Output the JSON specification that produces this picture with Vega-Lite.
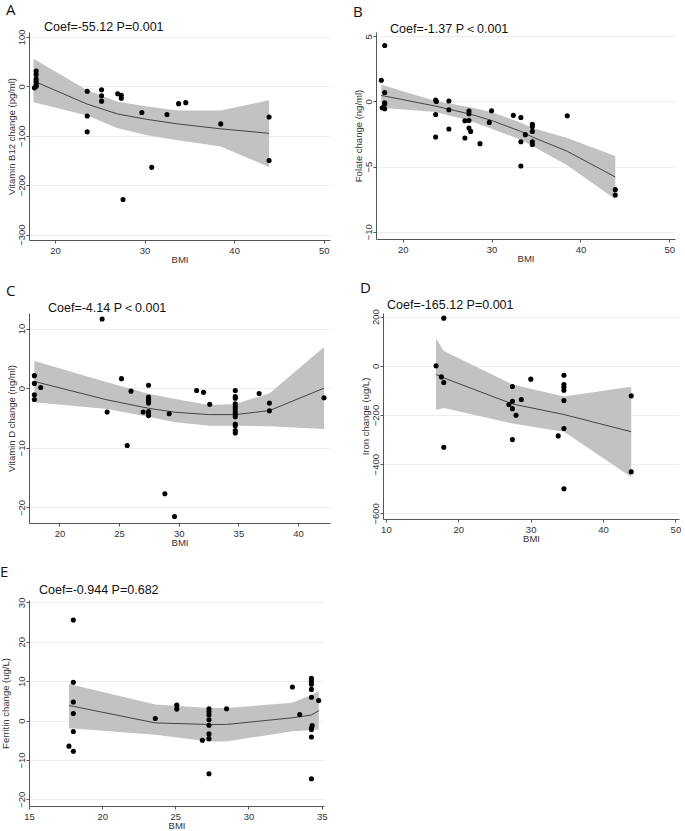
{
  "$schema": "https://vega.github.io/schema/vega-lite/v6.json",
  "background": "white",
  "padding": {"left": 0, "top": 2, "right": 0, "bottom": 0},
  "config": {
    "view": {"stroke": null},
    "font": "Liberation Sans",
    "axis": {
      "domainColor": "#555555",
      "tickColor": "#555555",
      "labelColor": "#333333",
      "titleColor": "#333333",
      "labelFont": "Liberation Sans",
      "titleFont": "Liberation Sans",
      "labelFontSize": 9.5,
      "titleFontSize": 9.5,
      "titleFontWeight": "normal",
      "tickSize": 3,
      "gridColor": "#eeeeee",
      "gridWidth": 1,
      "labelFlush": false,
      "labelOverlap": false
    },
    "axisX": {"grid": false, "labelPadding": 2, "titlePadding": 0},
    "axisY": {"grid": true, "labelAngle": 270, "labelAlign": "center", "labelBaseline": "bottom", "labelPadding": 0, "titlePadding": 0},
    "title": {"color": "#111111", "fontWeight": "normal"}
  },
  "datasets": {
    "A_pts": [
      {"bmi": 17.7, "y": -3}, {"bmi": 17.9, "y": 31}, {"bmi": 17.9, "y": 24}, {"bmi": 17.9, "y": 15},
      {"bmi": 17.9, "y": 9}, {"bmi": 17.9, "y": 4}, {"bmi": 17.9, "y": 0},
      {"bmi": 23.6, "y": -10}, {"bmi": 23.6, "y": -60}, {"bmi": 23.6, "y": -92},
      {"bmi": 25.2, "y": -7}, {"bmi": 25.2, "y": -19}, {"bmi": 25.2, "y": -30},
      {"bmi": 27.0, "y": -15}, {"bmi": 27.4, "y": -18}, {"bmi": 27.4, "y": -24}, {"bmi": 27.6, "y": -229},
      {"bmi": 29.7, "y": -53}, {"bmi": 30.8, "y": -164}, {"bmi": 32.5, "y": -57},
      {"bmi": 33.8, "y": -35}, {"bmi": 34.6, "y": -33}, {"bmi": 38.5, "y": -76},
      {"bmi": 43.9, "y": -62}, {"bmi": 43.9, "y": -150}
    ],
    "A_fit": [
      {"bmi": 17.6, "y": 11, "lo": -32, "hi": 56},
      {"bmi": 23.6, "y": -36, "lo": -59, "hi": -8},
      {"bmi": 27.0, "y": -56, "lo": -85, "hi": -31},
      {"bmi": 30.3, "y": -67, "lo": -99, "hi": -41},
      {"bmi": 33.7, "y": -76, "lo": -109, "hi": -49},
      {"bmi": 38.5, "y": -86, "lo": -122, "hi": -49},
      {"bmi": 43.9, "y": -95, "lo": -163, "hi": -28}
    ],
    "B_pts": [
      {"bmi": 17.6, "y": 1.63}, {"bmi": 17.98, "y": 4.29}, {"bmi": 17.98, "y": 0.69}, {"bmi": 17.98, "y": -0.1},
      {"bmi": 17.98, "y": -0.2}, {"bmi": 17.7, "y": -0.49}, {"bmi": 17.98, "y": -0.56},
      {"bmi": 23.71, "y": 0.1}, {"bmi": 23.8, "y": 0.0}, {"bmi": 23.71, "y": -1.0}, {"bmi": 23.71, "y": -2.73},
      {"bmi": 25.2, "y": 0.03}, {"bmi": 25.2, "y": -0.64}, {"bmi": 25.2, "y": -2.12},
      {"bmi": 27.0, "y": -1.48}, {"bmi": 27.0, "y": -2.81},
      {"bmi": 27.46, "y": -0.74}, {"bmi": 27.46, "y": -0.95}, {"bmi": 27.46, "y": -1.46}, {"bmi": 27.46, "y": -2.04},
      {"bmi": 27.65, "y": -2.3}, {"bmi": 28.7, "y": -3.24}, {"bmi": 29.75, "y": -1.61}, {"bmi": 30.0, "y": -0.72},
      {"bmi": 32.45, "y": -1.07}, {"bmi": 33.3, "y": -1.23}, {"bmi": 33.3, "y": -3.09}, {"bmi": 33.3, "y": -4.96},
      {"bmi": 33.8, "y": -2.55}, {"bmi": 34.59, "y": -1.76}, {"bmi": 34.59, "y": -1.92}, {"bmi": 34.59, "y": -2.3},
      {"bmi": 34.59, "y": -3.09}, {"bmi": 34.59, "y": -3.3}, {"bmi": 38.52, "y": -1.1},
      {"bmi": 43.92, "y": -6.77}, {"bmi": 43.92, "y": -7.18}
    ],
    "B_fit": [
      {"bmi": 17.6, "y": 0.46, "lo": -0.49, "hi": 1.28},
      {"bmi": 23.71, "y": -0.36, "lo": -0.82, "hi": 0.03},
      {"bmi": 27.46, "y": -0.95, "lo": -1.46, "hi": -0.43},
      {"bmi": 30.0, "y": -1.46, "lo": -2.09, "hi": -0.82},
      {"bmi": 33.3, "y": -2.3, "lo": -2.94, "hi": -1.63},
      {"bmi": 34.59, "y": -2.73, "lo": -3.42, "hi": -2.04},
      {"bmi": 38.52, "y": -3.83, "lo": -4.9, "hi": -2.81},
      {"bmi": 43.92, "y": -5.8, "lo": -7.5, "hi": -4.19}
    ],
    "C_pts": [
      {"bmi": 17.9, "y": 2.1}, {"bmi": 17.9, "y": 0.8}, {"bmi": 17.9, "y": -1.1}, {"bmi": 17.9, "y": -1.9},
      {"bmi": 18.43, "y": 0.1}, {"bmi": 23.58, "y": 11.6}, {"bmi": 24.0, "y": -4.0}, {"bmi": 25.2, "y": 1.6},
      {"bmi": 25.68, "y": -9.6}, {"bmi": 26.0, "y": -0.5}, {"bmi": 27.02, "y": -4.0},
      {"bmi": 27.47, "y": 0.5}, {"bmi": 27.47, "y": -1.5}, {"bmi": 27.47, "y": -1.85}, {"bmi": 27.47, "y": -2.2},
      {"bmi": 27.47, "y": -2.5}, {"bmi": 27.47, "y": -3.9}, {"bmi": 27.47, "y": -4.3}, {"bmi": 27.47, "y": -4.6},
      {"bmi": 28.84, "y": -17.7}, {"bmi": 29.2, "y": -4.3}, {"bmi": 29.65, "y": -21.5},
      {"bmi": 31.5, "y": -0.4}, {"bmi": 32.08, "y": -0.7}, {"bmi": 32.6, "y": -2.7},
      {"bmi": 34.74, "y": -0.4}, {"bmi": 34.74, "y": -1.4}, {"bmi": 34.74, "y": -1.7}, {"bmi": 34.74, "y": -2.6},
      {"bmi": 34.74, "y": -3.1}, {"bmi": 34.74, "y": -3.5}, {"bmi": 34.74, "y": -4.0}, {"bmi": 34.74, "y": -4.4},
      {"bmi": 34.74, "y": -4.8}, {"bmi": 34.74, "y": -6.0}, {"bmi": 34.74, "y": -6.3}, {"bmi": 34.74, "y": -7.1},
      {"bmi": 34.74, "y": -7.5}, {"bmi": 36.74, "y": -0.9}, {"bmi": 37.6, "y": -2.5}, {"bmi": 37.6, "y": -3.8},
      {"bmi": 42.18, "y": -1.6}
    ],
    "C_fit": [
      {"bmi": 17.9, "y": 1.12, "lo": -2.36, "hi": 4.54},
      {"bmi": 24.0, "y": -1.96, "lo": -3.48, "hi": 1.0},
      {"bmi": 27.47, "y": -3.37, "lo": -4.77, "hi": -0.95},
      {"bmi": 29.7, "y": -4.04, "lo": -5.72, "hi": -1.8},
      {"bmi": 32.59, "y": -4.43, "lo": -6.28, "hi": -2.8},
      {"bmi": 34.74, "y": -4.43, "lo": -6.28, "hi": -2.64},
      {"bmi": 37.6, "y": -3.76, "lo": -6.39, "hi": -0.9},
      {"bmi": 42.18, "y": 0.0, "lo": -6.84, "hi": 6.9}
    ],
    "D_pts": [
      {"bmi": 16.93, "y": 0}, {"bmi": 17.67, "y": -45}, {"bmi": 18.0, "y": 194}, {"bmi": 18.0, "y": -68},
      {"bmi": 18.0, "y": -331}, {"bmi": 27.0, "y": -157}, {"bmi": 27.48, "y": -84}, {"bmi": 27.48, "y": -144},
      {"bmi": 27.48, "y": -174}, {"bmi": 27.48, "y": -300}, {"bmi": 27.98, "y": -201}, {"bmi": 28.72, "y": -137},
      {"bmi": 30.02, "y": -54}, {"bmi": 33.81, "y": -285}, {"bmi": 34.6, "y": -38}, {"bmi": 34.6, "y": -76},
      {"bmi": 34.6, "y": -87}, {"bmi": 34.6, "y": -99}, {"bmi": 34.6, "y": -141}, {"bmi": 34.6, "y": -255},
      {"bmi": 34.6, "y": -500}, {"bmi": 43.9, "y": -122}, {"bmi": 43.9, "y": -431}
    ],
    "D_fit": [
      {"bmi": 16.93, "y": -35, "lo": -180, "hi": 111},
      {"bmi": 18.0, "y": -49, "lo": -171, "hi": 60},
      {"bmi": 27.48, "y": -155, "lo": -235, "hi": -76},
      {"bmi": 34.6, "y": -198, "lo": -268, "hi": -125},
      {"bmi": 43.9, "y": -268, "lo": -452, "hi": -85}
    ],
    "E_pts": [
      {"bmi": 17.73, "y": -6.5}, {"bmi": 18.03, "y": 25.5}, {"bmi": 18.03, "y": 9.7}, {"bmi": 18.03, "y": 4.7},
      {"bmi": 18.03, "y": 1.8}, {"bmi": 18.03, "y": -2.8}, {"bmi": 18.03, "y": -7.8}, {"bmi": 23.63, "y": 0.5},
      {"bmi": 25.1, "y": 3.9}, {"bmi": 25.1, "y": 2.9}, {"bmi": 26.85, "y": -5.0},
      {"bmi": 27.3, "y": 3.0}, {"bmi": 27.3, "y": 2.2}, {"bmi": 27.3, "y": 1.4}, {"bmi": 27.3, "y": 0.2},
      {"bmi": 27.3, "y": -1.2}, {"bmi": 27.3, "y": -3.4}, {"bmi": 27.3, "y": -4.6}, {"bmi": 27.3, "y": -13.5},
      {"bmi": 28.5, "y": 3.0}, {"bmi": 33.0, "y": 8.5}, {"bmi": 33.5, "y": 1.5},
      {"bmi": 34.3, "y": 10.7}, {"bmi": 34.3, "y": 10.0}, {"bmi": 34.3, "y": 9.2}, {"bmi": 34.3, "y": 7.9},
      {"bmi": 34.3, "y": 5.9}, {"bmi": 34.8, "y": 5.1}, {"bmi": 34.35, "y": -1.3}, {"bmi": 34.3, "y": -1.9},
      {"bmi": 34.3, "y": -2.3}, {"bmi": 34.3, "y": -4.2}, {"bmi": 34.3, "y": -14.8}
    ],
    "E_fit": [
      {"bmi": 17.73, "y": 3.8, "lo": -2.0, "hi": 9.4},
      {"bmi": 18.03, "y": 3.6, "lo": -2.0, "hi": 9.0},
      {"bmi": 23.63, "y": -0.6, "lo": -3.6, "hi": 4.1},
      {"bmi": 27.3, "y": -1.0, "lo": -5.3, "hi": 3.2},
      {"bmi": 28.5, "y": -1.0, "lo": -5.3, "hi": 3.2},
      {"bmi": 33.0, "y": 0.7, "lo": -2.7, "hi": 4.5},
      {"bmi": 34.3, "y": 1.4, "lo": -2.4, "hi": 6.5},
      {"bmi": 34.8, "y": 2.5, "lo": -2.3, "hi": 7.5}
    ]
  },
  "spacing": 17,
  "vconcat": [
    {
      "spacing": 23,
      "hconcat": [
        {
          "title": {"text": "A", "anchor": "start", "frame": "bounds", "font": "Open Sans", "fontSize": 15, "offset": 3},
          "vconcat": [{
            "title": {"text": "Coef=-55.12 P=0.001", "anchor": "start", "frame": "group", "dx": 15, "fontSize": 12.5, "offset": -4},
            "width": 301, "height": 208,
            "layer": [
              {"data": {"name": "A_fit"}, "mark": {"type": "area", "color": "#c2c2c2", "opacity": 1},
               "encoding": {
                 "x": {"field": "bmi", "type": "quantitative", "title": "BMI", "scale": {"domain": [17.1, 50.7], "nice": false, "zero": false}, "axis": {"values": [20, 30, 40, 50]}},
                 "y": {"field": "lo", "type": "quantitative", "title": "Vitamin B12 change (pg/ml)", "scale": {"domain": [-311, 110], "nice": false, "zero": false}, "axis": {"values": [100, 0, -100, -200, -300]}},
                 "y2": {"field": "hi"}}},
              {"data": {"name": "A_fit"}, "mark": {"type": "line", "color": "#444444", "strokeWidth": 1},
               "encoding": {"x": {"field": "bmi", "type": "quantitative", "title": "BMI"}, "y": {"field": "y", "type": "quantitative", "title": "Vitamin B12 change (pg/ml)"}}},
              {"data": {"name": "A_pts"}, "mark": {"type": "circle", "color": "#000000", "opacity": 1, "size": 26},
               "encoding": {"x": {"field": "bmi", "type": "quantitative", "title": "BMI"}, "y": {"field": "y", "type": "quantitative", "title": "Vitamin B12 change (pg/ml)"}}}
            ]
          }]
        },
        {
          "title": {"text": "B", "anchor": "start", "frame": "bounds", "font": "Open Sans", "fontSize": 15, "offset": 3},
          "vconcat": [{
            "title": {"text": "Coef=-1.37 P＜0.001", "anchor": "start", "frame": "group", "dx": 14, "fontSize": 12.5, "offset": -3},
            "width": 299, "height": 207,
            "layer": [
              {"data": {"name": "B_fit"}, "mark": {"type": "area", "color": "#c2c2c2", "opacity": 1},
               "encoding": {
                 "x": {"field": "bmi", "type": "quantitative", "title": "BMI", "scale": {"domain": [17.0, 50.64], "nice": false, "zero": false}, "axis": {"values": [20, 30, 40, 50]}},
                 "y": {"field": "lo", "type": "quantitative", "title": "Folate change (ng/ml)", "scale": {"domain": [-10.56, 5.33], "nice": false, "zero": false}, "axis": {"values": [5, 0, -5, -10]}},
                 "y2": {"field": "hi"}}},
              {"data": {"name": "B_fit"}, "mark": {"type": "line", "color": "#444444", "strokeWidth": 1},
               "encoding": {"x": {"field": "bmi", "type": "quantitative", "title": "BMI"}, "y": {"field": "y", "type": "quantitative", "title": "Folate change (ng/ml)"}}},
              {"data": {"name": "B_pts"}, "mark": {"type": "circle", "color": "#000000", "opacity": 1, "size": 26},
               "encoding": {"x": {"field": "bmi", "type": "quantitative", "title": "BMI"}, "y": {"field": "y", "type": "quantitative", "title": "Folate change (ng/ml)"}}}
            ]
          }]
        }
      ]
    },
    {
      "spacing": 30,
      "hconcat": [
        {
          "title": {"text": "C", "anchor": "start", "frame": "bounds", "font": "Open Sans", "fontSize": 15, "offset": 3},
          "vconcat": [{
            "title": {"text": "Coef=-4.14 P＜0.001", "anchor": "start", "frame": "group", "dx": 19, "fontSize": 12.5, "offset": -1},
            "width": 301, "height": 210,
            "layer": [
              {"data": {"name": "C_fit"}, "mark": {"type": "area", "color": "#c2c2c2", "opacity": 1},
               "encoding": {
                 "x": {"field": "bmi", "type": "quantitative", "title": "BMI", "scale": {"domain": [17.45, 42.68], "nice": false, "zero": false}, "axis": {"values": [20, 25, 30, 35, 40]}},
                 "y": {"field": "lo", "type": "quantitative", "title": "Vitamin D change (ng/ml)", "scale": {"domain": [-22.6, 12.6], "nice": false, "zero": false}, "axis": {"values": [10, 0, -10, -20]}},
                 "y2": {"field": "hi"}}},
              {"data": {"name": "C_fit"}, "mark": {"type": "line", "color": "#444444", "strokeWidth": 1},
               "encoding": {"x": {"field": "bmi", "type": "quantitative", "title": "BMI"}, "y": {"field": "y", "type": "quantitative", "title": "Vitamin D change (ng/ml)"}}},
              {"data": {"name": "C_pts"}, "mark": {"type": "circle", "color": "#000000", "opacity": 1, "size": 26},
               "encoding": {"x": {"field": "bmi", "type": "quantitative", "title": "BMI"}, "y": {"field": "y", "type": "quantitative", "title": "Vitamin D change (ng/ml)"}}}
            ]
          }]
        },
        {
          "title": {"text": "D", "anchor": "start", "frame": "bounds", "font": "Open Sans", "fontSize": 15, "offset": 3},
          "vconcat": [{
            "title": {"text": "Coef=-165.12 P=0.001", "anchor": "start", "frame": "group", "dx": 4, "fontSize": 12.5, "offset": -3},
            "width": 296, "height": 206,
            "layer": [
              {"data": {"name": "D_fit"}, "mark": {"type": "area", "color": "#c2c2c2", "opacity": 1},
               "encoding": {
                 "x": {"field": "bmi", "type": "quantitative", "title": "BMI", "scale": {"domain": [9.6, 50.5], "nice": false, "zero": false}, "axis": {"values": [10, 20, 30, 40, 50]}},
                 "y": {"field": "lo", "type": "quantitative", "title": "Iron change (ug/L)", "scale": {"domain": [-623, 215], "nice": false, "zero": false}, "axis": {"values": [200, 0, -200, -400, -600]}},
                 "y2": {"field": "hi"}}},
              {"data": {"name": "D_fit"}, "mark": {"type": "line", "color": "#444444", "strokeWidth": 1},
               "encoding": {"x": {"field": "bmi", "type": "quantitative", "title": "BMI"}, "y": {"field": "y", "type": "quantitative", "title": "Iron change (ug/L)"}}},
              {"data": {"name": "D_pts"}, "mark": {"type": "circle", "color": "#000000", "opacity": 1, "size": 26},
               "encoding": {"x": {"field": "bmi", "type": "quantitative", "title": "BMI"}, "y": {"field": "y", "type": "quantitative", "title": "Iron change (ug/L)"}}}
            ]
          }]
        }
      ]
    },
    {
      "title": {"text": "E", "anchor": "start", "frame": "bounds", "font": "Open Sans", "fontSize": 15, "offset": 4},
      "vconcat": [{
        "title": {"text": "Coef=-0.944 P=0.682", "anchor": "start", "frame": "group", "dx": 10, "fontSize": 12.5, "offset": 1},
        "width": 295, "height": 206,
        "layer": [
          {"data": {"name": "E_fit"}, "mark": {"type": "area", "color": "#c2c2c2", "opacity": 1},
           "encoding": {
             "x": {"field": "bmi", "type": "quantitative", "title": "BMI", "scale": {"domain": [15.0, 35.16], "nice": false, "zero": false}, "axis": {"values": [15, 20, 25, 30, 35]}},
             "y": {"field": "lo", "type": "quantitative", "title": "Ferritin change (ug/L)", "scale": {"domain": [-21.7, 30.6], "nice": false, "zero": false}, "axis": {"values": [30, 20, 10, 0, -10, -20], "titlePadding": 6}},
             "y2": {"field": "hi"}}},
          {"data": {"name": "E_fit"}, "mark": {"type": "line", "color": "#444444", "strokeWidth": 1},
           "encoding": {"x": {"field": "bmi", "type": "quantitative", "title": "BMI"}, "y": {"field": "y", "type": "quantitative", "title": "Ferritin change (ug/L)"}}},
          {"data": {"name": "E_pts"}, "mark": {"type": "circle", "color": "#000000", "opacity": 1, "size": 26},
           "encoding": {"x": {"field": "bmi", "type": "quantitative", "title": "BMI"}, "y": {"field": "y", "type": "quantitative", "title": "Ferritin change (ug/L)"}}}
        ]
      }]
    }
  ]
}
